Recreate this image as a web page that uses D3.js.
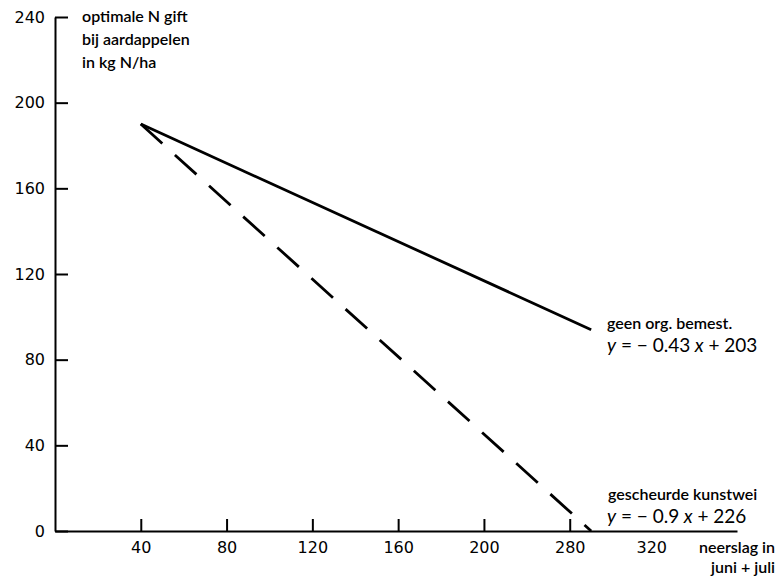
<!DOCTYPE html>
<html>
<head>
<meta charset="utf-8">
<script src="https://cdn.jsdelivr.net/npm/d3@7"></script>
<style>
  body { margin: 0; background: #fff; }
</style>
</head>
<body>
<script>
// neerslag (x) tegen optimale N gift (y)
var lineX = [40, 250];
var geenOrg = [190, 94];     // geen org. bemest.
var gescheurd = [190, 0];    // gescheurde kunstwei

var yTicks = [0, 40, 80, 120, 160, 200, 240];
var xTicks = [40, 80, 120, 160, 200, 240, 278];
var xTickLabels = ["40", "80", "120", "160", "200", "280", "320"]; // zoals gedrukt
var yTitle = ["optimale N gift", "bij aardappelen", "in kg N/ha"];
var xTitle = ["neerslag in", "juni + juli"];

var width = 777, height = 580;

var svg = d3.select(document.body).append("svg")
    .attr("width", width)
    .attr("height", height);

var x = d3.scaleLinear().domain([0, 318]).range([55, 737]);
var y = d3.scaleLinear().domain([0, 240]).range([531, 17]);

// x as
var xAxis = svg.append("g")
    .attr("transform", "translate(0," + y(0) + ")")
    .call(d3.axisBottom(x)
        .tickValues(xTicks)
        .tickFormat((d, i) => xTickLabels[i])
        .tickSizeInner(-12)
        .tickSizeOuter(0)
        .tickPadding(11));

xAxis.select(".domain").attr("stroke-width", 2);
xAxis.selectAll(".tick line").attr("stroke-width", 2)
    .filter((d) => d === 278).remove();
xAxis.selectAll("text")
    .attr("font-family", "DejaVu Sans, sans-serif")
    .attr("font-size", 16)
    .attr("fill", "#000");

// y as
var yAxis = svg.append("g")
    .attr("transform", "translate(" + x(0) + ",0)")
    .call(d3.axisLeft(y)
        .tickValues(yTicks)
        .tickSizeInner(-13)
        .tickSizeOuter(0)
        .tickPadding(10));

yAxis.select(".domain").attr("stroke-width", 2);
yAxis.selectAll(".tick line").attr("stroke-width", 2);
yAxis.selectAll("text")
    .attr("font-family", "DejaVu Sans, sans-serif")
    .attr("font-size", 16)
    .attr("fill", "#000");
svg.selectAll(".domain").attr("stroke", "#000");

// lijnen
var line = d3.line()
    .x((d, i) => x(lineX[i]))
    .y((d) => y(d));

svg.append("path")
    .datum(geenOrg)
    .attr("fill", "none")
    .attr("stroke", "#000")
    .attr("stroke-width", 2.8)
    .attr("d", line);

svg.append("path")
    .datum(gescheurd)
    .attr("fill", "none")
    .attr("stroke", "#000")
    .attr("stroke-width", 2.8)
    .attr("stroke-dasharray", "29,17")
    .attr("d", line);

// teksten
var label = svg.append("g")
    .attr("font-family", "Lato, sans-serif")
    .attr("font-size", 16)
    .attr("font-weight", 600)
    .attr("fill", "#000");

label.selectAll("text.yt")
    .data(yTitle)
    .join("text")
    .attr("x", 82)
    .attr("y", (d, i) => 22 + i * 23)
    .text((d) => d);

label.selectAll("text.xt")
    .data(xTitle)
    .join("text")
    .attr("x", 775)
    .attr("y", (d, i) => 553 + i * 20)
    .attr("text-anchor", "end")
    .text((d) => d);

label.append("text").attr("x", 607).attr("y", 329).text("geen org. bemest.");
label.append("text").attr("x", 608).attr("y", 500).text("gescheurde kunstwei");

function equation(x0, y0, a, b) {
  var t = label.append("text")
      .attr("x", x0)
      .attr("y", y0)
      .attr("font-weight", 400)
      .attr("font-size", 19);
  t.append("tspan").attr("font-style", "italic").text("y");
  t.append("tspan").text(" = − " + a);
  t.append("tspan").attr("font-style", "italic").text(" x");
  t.append("tspan").text(" + " + b);
}
equation(607, 352, "0.43", "203");
equation(607, 523, "0.9", "226");
</script>
</body>
</html>
